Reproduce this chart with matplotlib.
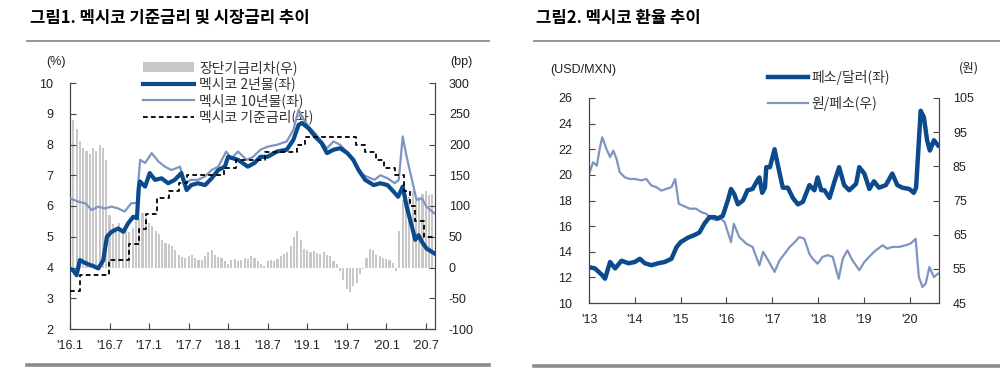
import numpy as np
import matplotlib
matplotlib.use("Agg")
import matplotlib.pyplot as plt
from matplotlib.lines import Line2D
from matplotlib.font_manager import FontProperties

plt.rcParams['font.family'] = ['Liberation Sans', 'Noto Sans CJK KR']
plt.rcParams['axes.unicode_minus'] = False
KR = ['Noto Sans CJK KR', 'Liberation Sans']

# ---------------- Chart 1 data (x = months since Jan 2016) ----------------
x_ticks1 = [0, 6, 12, 18, 24, 30, 36, 42, 48, 54]
x_labels1 = ["'16.1", "'16.7", "'17.1", "'17.7", "'18.1", "'18.7", "'19.1", "'19.7", "'20.1", "'20.7"]

two_y_m = [0, 0.5, 1.0, 1.5, 2.3, 2.8, 3.5, 4.3, 5.05, 5.6, 6.3, 7.3, 8.1, 8.8, 9.6,
           10.15, 10.45, 10.6, 11.4, 12.1, 12.9, 13.9, 14.9, 15.9, 16.9, 17.7, 18.4,
           19.4, 20.5, 21.5, 22.5, 23.5, 24.0, 25.5, 27.0, 28.0, 28.9, 30.0, 31.4,
           32.9, 33.9, 34.7, 35.2, 36.2, 37.2, 38.2, 39.0, 40.0, 41.0, 42.1, 43.0,
           43.8, 44.8, 46.1, 47.1, 48.2, 49.1, 49.8, 50.5, 51.1, 51.9, 52.4, 52.9,
           53.4, 54.1, 55.3]
two_y = [3.97, 3.90, 3.75, 4.24, 4.15, 4.10, 4.05, 3.97, 4.24, 5.00, 5.16, 5.27, 5.16,
         5.43, 5.65, 5.60, 6.60, 6.80, 6.63, 7.07, 6.85, 6.90, 6.74, 6.85, 7.07, 6.52,
         6.68, 6.74, 6.68, 6.90, 7.17, 7.28, 7.60, 7.50, 7.28, 7.40, 7.60, 7.60, 7.77,
         7.83, 8.15, 8.64, 8.70, 8.53, 8.26, 8.04, 7.72, 7.83, 7.88, 7.72, 7.50, 7.17,
         6.85, 6.68, 6.74, 6.68, 6.47, 6.30, 6.63, 5.98, 5.33, 4.90, 5.05, 4.84, 4.62,
         4.46]

ten_y_m = [0, 1.26, 2.3, 3.3, 4.3, 5.3, 6.3, 7.3, 8.3, 9.3, 10.15, 10.45, 10.65, 11.4,
           12.4, 13.4, 14.4, 15.4, 16.7, 17.4, 18.4, 19.4, 20.5, 21.5, 22.5, 23.7,
           24.5, 25.5, 26.8, 27.8, 28.9, 30.0, 31.4, 32.9, 33.9, 34.7, 35.5, 36.2,
           37.2, 38.2, 39.0, 40.0, 41.0, 42.0, 43.0, 44.0, 45.0, 46.2, 47.1, 48.2,
           49.3, 49.9, 50.5, 51.1, 51.9, 52.6, 53.4, 54.1, 55.3]
ten_y = [6.25, 6.14, 6.09, 5.87, 5.98, 5.92, 5.98, 5.92, 5.82, 6.09, 6.10, 7.00, 7.50,
         7.40, 7.72, 7.45, 7.28, 7.17, 7.28, 6.74, 6.85, 6.85, 6.96, 7.17, 7.28, 7.77,
         7.55, 7.77, 7.50, 7.60, 7.83, 7.93, 7.99, 8.10, 8.48, 9.13, 8.80, 8.59, 8.37,
         8.10, 7.88, 8.10, 7.99, 7.77, 7.50, 7.07, 6.96, 6.85, 7.00, 6.90, 6.74, 6.85,
         8.26, 7.60, 6.85, 6.20, 6.25, 5.98, 5.76]

policy_m = [0, 1.55, 5.97, 8.93, 10.53, 11.47, 13.27, 14.97, 16.57, 17.7, 23.45, 25.25,
            29.67, 34.5, 35.63, 43.48, 44.85, 46.45, 47.6, 49.4, 50.63, 51.67, 52.43,
            53.8, 55.3]
policy = [3.25, 3.75, 4.25, 4.75, 5.25, 5.75, 6.25, 6.50, 6.75, 7.00, 7.25, 7.50, 7.75,
          8.00, 8.25, 8.00, 7.75, 7.50, 7.25, 7.00, 6.50, 6.00, 5.50, 5.00, 5.00]

# term spread (bp), semi-monthly from Jan 2016
spread_bp = [215, 240, 225, 205, 195, 190, 185, 195, 190, 200, 195, 175,
             85, 70, 65, 72, 60, 62, 58, 65, 75, 80, 88, 82,
             72, 68, 60, 55, 45, 40, 38, 35, 28, 20, 17, 15,
             18, 20, 15, 12, 12, 18, 25, 28, 20, 17, 15, 10,
             5, 12, 14, 10, 12, 15, 14, 18, 16, 10, 5, 2,
             10, 12, 10, 14, 18, 22, 25, 35, 50, 60, 45, 30,
             28, 25, 27, 24, 22, 25, 20, 18, 10, 5, -5, -20,
             -35, -40, -30, -25, -10, -3, 15, 30, 28, 20, 18, 15,
             14, 12, 8, -5, 60, 110, 120, 115, 125, 110, 115, 120,
             125, 118, 120]
spread_m = np.arange(len(spread_bp)) * 0.5

# ---------------- Chart 2 data (x = decimal year) ----------------
x_ticks2 = [2013, 2014, 2015, 2016, 2017, 2018, 2019, 2020]
x_labels2 = ["'13", "'14", "'15", "'16", "'17", "'18", "'19", "'20"]

mxn_t = [2013.00, 2013.13, 2013.28, 2013.35, 2013.46, 2013.57, 2013.71, 2013.86,
         2014.00, 2014.11, 2014.22, 2014.36, 2014.51, 2014.65, 2014.80, 2014.91,
         2015.00, 2015.16, 2015.30, 2015.41, 2015.52, 2015.63, 2015.74, 2015.81,
         2015.92, 2016.03, 2016.10, 2016.17, 2016.25, 2016.36, 2016.46, 2016.57,
         2016.68, 2016.72, 2016.78, 2016.84, 2016.87, 2016.95, 2017.05, 2017.12,
         2017.23, 2017.34, 2017.45, 2017.56, 2017.67, 2017.81, 2017.92, 2017.99,
         2018.07, 2018.14, 2018.25, 2018.36, 2018.46, 2018.57, 2018.68, 2018.83,
         2018.90, 2019.01, 2019.12, 2019.22, 2019.33, 2019.48, 2019.62, 2019.73,
         2019.84, 2019.99, 2020.09, 2020.14, 2020.19, 2020.24, 2020.31, 2020.38,
         2020.44, 2020.53, 2020.62]
mxn = [12.8, 12.7, 12.2, 11.9, 13.2, 12.7, 13.3, 13.1,
       13.2, 13.45, 13.1, 12.95, 13.1, 13.2, 13.45, 14.36,
       14.75, 15.1, 15.3, 15.5, 16.2, 16.7, 16.7, 16.6,
       16.8, 18.0, 18.9, 18.5, 17.7, 18.0, 18.8, 18.9,
       19.6, 19.8, 18.6, 19.0, 20.6, 20.6, 22.0, 20.8,
       19.0, 19.0, 18.2, 17.7, 17.9, 19.2, 18.8, 19.8,
       18.8, 18.8, 18.2, 19.5, 20.6, 19.2, 18.8, 19.3,
       20.6, 20.1, 18.9, 19.5, 19.0, 19.2, 20.1, 19.2,
       19.0, 18.9, 18.6, 19.0, 22.0, 25.0, 24.5, 22.7,
       21.9, 22.7, 22.3]

krw_t = [2013.00, 2013.09, 2013.17, 2013.24, 2013.29, 2013.38, 2013.46, 2013.53,
         2013.60, 2013.67, 2013.78, 2013.89, 2014.00, 2014.14, 2014.25, 2014.36,
         2014.47, 2014.58, 2014.69, 2014.80, 2014.88, 2014.96, 2015.05, 2015.20,
         2015.34, 2015.45, 2015.56, 2015.67, 2015.78, 2015.88, 2015.96, 2016.10,
         2016.16, 2016.28, 2016.43, 2016.57, 2016.72, 2016.80, 2016.91, 2017.05,
         2017.16, 2017.27, 2017.38, 2017.49, 2017.59, 2017.70, 2017.81, 2017.88,
         2017.99, 2018.10, 2018.21, 2018.32, 2018.45, 2018.54, 2018.64, 2018.75,
         2018.90, 2019.01, 2019.15, 2019.26, 2019.41, 2019.51, 2019.62, 2019.77,
         2019.91, 2020.02, 2020.13, 2020.20, 2020.28, 2020.35, 2020.43, 2020.53,
         2020.62]
krw = [82.8, 86.2, 85.2, 90.6, 93.5, 90.1, 87.7, 89.6,
       87.2, 83.3, 81.8, 81.3, 81.3, 80.9, 81.3, 79.4,
       78.9, 77.9, 78.4, 78.9, 81.3, 74.0, 73.5, 72.6,
       72.6, 71.6, 71.1, 69.7, 69.2, 69.7, 68.7, 62.8,
       68.2, 64.3, 62.4, 61.4, 56.0, 60.0, 57.5, 54.1,
       57.5, 59.4, 61.4, 62.8, 64.3, 63.8, 59.4, 58.0,
       56.5, 58.5, 59.0, 58.5, 52.1, 58.0, 60.4, 57.5,
       54.6, 57.0, 59.0, 60.4, 61.9, 60.9, 61.4, 61.4,
       61.9, 62.4, 63.8, 52.6, 49.7, 50.7, 55.5, 52.6,
       53.6]

DARK = '#0b4a8c'
LIGHT = '#7f95c0'
BARC = '#c8c8c8'
TXT = '#222222'
SPC = '#444444'

fig = plt.figure(figsize=(10, 3.69), dpi=100)

def fx(px):
    return px / 1000.0

def fy(py):
    return 1 - py / 369.0

# titles and rules
fig.text(fx(30), fy(18), '그림1. 멕시코 기준금리 및 시장금리 추이', family=KR, fontsize=12,
         weight='bold', va='center', ha='left', color='black')
fig.text(fx(536), fy(18), '그림2. 멕시코 환율 추이', family=KR, fontsize=12,
         weight='bold', va='center', ha='left', color='black')
for (a, b, y, lw) in [(27, 489, 41, 1.3), (27, 489, 365, 2.6), (534, 1000, 41, 1.3), (534, 1000, 366, 2.6)]:
    fig.add_artist(Line2D([fx(a), fx(b)], [fy(y), fy(y)], transform=fig.transFigure,
                          color='#8c8c8c', lw=lw))

def style(ax, twin):
    for a in (ax, twin):
        a.spines['top'].set_visible(False)
        for s in ('left', 'right', 'bottom'):
            a.spines[s].set_color(SPC)
            a.spines[s].set_linewidth(0.8)
    ax.tick_params(axis='both', direction='in', length=4, width=0.8, color=SPC,
                   labelsize=9, labelcolor=TXT)
    twin.tick_params(axis='y', direction='in', length=4, width=0.8, color=SPC,
                     labelsize=9, labelcolor=TXT)

# ---------------- Chart 1 ----------------
ax1b = fig.add_axes([fx(70), fy(329), fx(435) - fx(70), fy(83) - fy(329)])
ax1 = ax1b.twinx()
ax1b.bar(spread_m, spread_bp, width=0.32, color=BARC, align='center', linewidth=0)
ax1b.set_ylim(-100, 300)
ax1b.set_yticks([-100, -50, 0, 50, 100, 150, 200, 250, 300])
ax1b.yaxis.tick_right()
ax1b.yaxis.set_label_position('right')
ax1.yaxis.tick_left()
ax1.set_zorder(ax1b.get_zorder() + 1)
ax1.patch.set_visible(False)

l2, = ax1.plot(two_y_m, two_y, color=DARK, lw=3.0, zorder=4, solid_joinstyle='round')
l10, = ax1.plot(ten_y_m, ten_y, color=LIGHT, lw=1.6, zorder=3)
lp, = ax1.step(policy_m, policy, where='post', color='black', lw=1.3,
               linestyle=(0, (2.6, 1.8)), zorder=5)
ax1.set_ylim(2, 10)
ax1.set_yticks(range(2, 11))
ax1.set_xlim(0, 55.4)
ax1.set_xticks(x_ticks1)
ax1.set_xticklabels(x_labels1)
style(ax1, ax1b)
ax1b.tick_params(axis='x', direction='in', length=4, width=0.8, color=SPC,
                 labelsize=9, labelcolor=TXT, pad=8)
ax1b.set_xlim(0, 55.4)
ax1b.set_xticks(x_ticks1)
ax1b.set_xticklabels(x_labels1)
ax1.tick_params(axis='x', labelbottom=False, length=0)
ax1.tick_params(axis='y', pad=12)
ax1b.tick_params(axis='y', pad=10)

bar_handle = matplotlib.patches.Patch(facecolor=BARC, edgecolor='none')
leg1 = ax1.legend([bar_handle, l2, l10, lp],
                  ['장단기금리차(우)', '멕시코 2년물(좌)', '멕시코 10년물(좌)', '멕시코 기준금리(좌)'],
                  loc='upper left', bbox_to_anchor=(fx(143), fy(60)),
                  bbox_transform=fig.transFigure, frameon=False, borderpad=0,
                  borderaxespad=0, handlelength=3.7, handletextpad=0.35,
                  labelspacing=0.13, prop=FontProperties(family=KR, size=10))
leg1.set_zorder(1)
for t in leg1.get_texts():
    t.set_color('#333333')

fig.text(fx(56), fy(62), '(%)', fontsize=9, ha='center', va='center', color=TXT)
fig.text(fx(461), fy(62), '(bp)', fontsize=9, ha='center', va='center', color=TXT)

# ---------------- Chart 2 ----------------
ax2 = fig.add_axes([fx(589), fy(303), fx(939) - fx(589), fy(98) - fy(303)])
ax2b = ax2.twinx()
lk, = ax2b.plot(krw_t, krw, color=LIGHT, lw=1.6)
lm, = ax2.plot(mxn_t, mxn, color=DARK, lw=3.2, solid_joinstyle='round')
ax2.set_zorder(ax2b.get_zorder() + 1)
ax2.patch.set_visible(False)
ax2.set_ylim(10, 26)
ax2.set_yticks(range(10, 27, 2))
ax2b.set_ylim(45, 105)
ax2b.set_yticks(range(45, 106, 10))
ax2.set_xlim(2013, 2020.64)
ax2.set_xticks(x_ticks2)
ax2.set_xticklabels(x_labels2)
style(ax2, ax2b)
ax2.tick_params(axis='y', pad=12)
ax2.tick_params(axis='x', pad=8)
ax2b.tick_params(axis='y', pad=10)

leg2 = ax2.legend([lm, lk], ['페소/달러(좌)', '원/페소(우)'], loc='upper left',
                  bbox_to_anchor=(fx(768), fy(70)), bbox_transform=fig.transFigure,
                  frameon=False, borderpad=0, borderaxespad=0, handlelength=2.9,
                  handletextpad=0.25, labelspacing=0.8,
                  prop=FontProperties(family=KR, size=10))
for t in leg2.get_texts():
    t.set_color('#333333')

fig.text(fx(583), fy(70), '(USD/MXN)', fontsize=9, ha='center', va='center', color=TXT)
fig.text(fx(969), fy(68), '(원)', family=KR, fontsize=9, ha='center', va='center', color=TXT)

fig.savefig('out.png', dpi=100)
